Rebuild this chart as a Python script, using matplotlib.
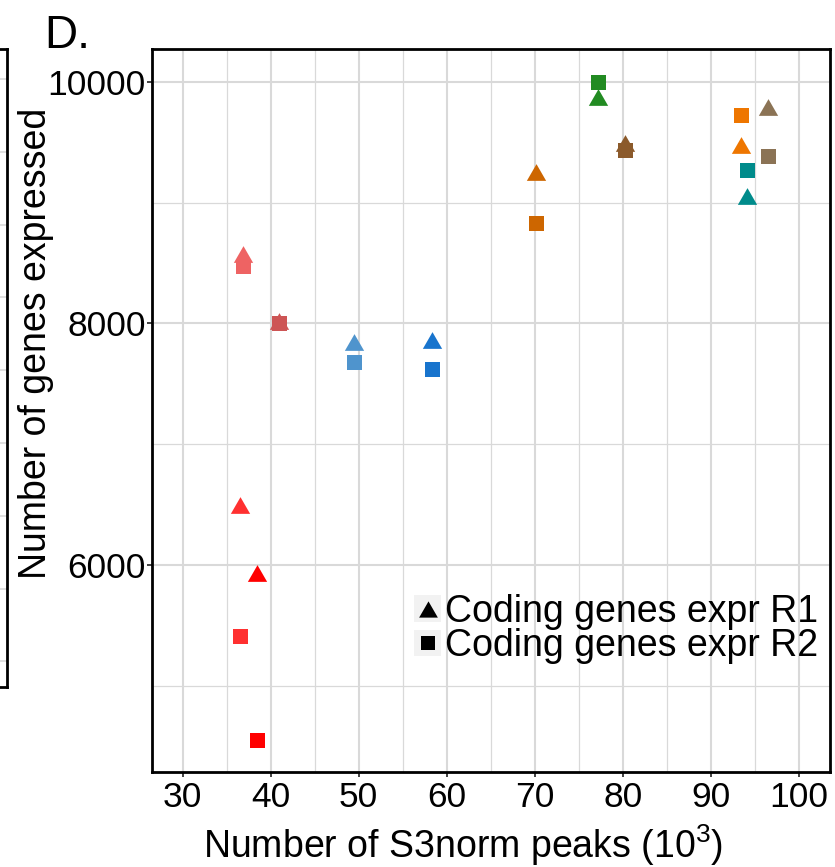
import matplotlib
matplotlib.use('Agg')
import matplotlib.pyplot as plt
from matplotlib.lines import Line2D
from matplotlib.patches import Rectangle
from matplotlib.ticker import MultipleLocator

plt.rcParams['font.family'] = ['Liberation Sans', 'DejaVu Sans']
plt.rcParams['mathtext.fontset'] = 'custom'
plt.rcParams['mathtext.rm'] = 'Liberation Sans'
plt.rcParams['mathtext.it'] = 'Liberation Sans:italic'
plt.rcParams['mathtext.bf'] = 'Liberation Sans:bold'

# ---- data ----
peaks = [36.9, 40.9, 49.46, 58.3, 36.5, 38.5, 70.1, 77.13, 80.28, 93.47, 94.15, 96.52]   # x10^3
genes_r1 = [8573, 8020, 7844, 7863, 6499, 5938, 9257, 9872, 9498, 9478, 9059, 9794]
genes_r2 = [8474, 8005, 7677, 7622, 5416, 4555, 8836, 9996, 9433, 9723, 9275, 9383]
colors = ['#EE6363', '#CD5555', '#4F94CD', '#1874CD', '#FF3030', '#FF0000',
          '#CD6600', '#228B22', '#8B5A2B', '#EE7600', '#008B8B', '#8B7355']
legend_labels = ['Coding genes expr R1', 'Coding genes expr R2']
xticks = [30, 40, 50, 60, 70, 80, 90, 100]
yticks = [6000, 8000, 10000]

tri = [(-1, -0.866), (1, -0.866), (0, 0.866)]

fig = plt.figure(figsize=(8.35, 8.67), dpi=100)

# fragment of neighbouring panel at the far left
ax0 = fig.add_axes([-0.1, 1 - 687 / 867, 0.1 + 6.7 / 835, (687 - 49) / 867])
ax0.set_xlim(0, 1)
ax0.set_ylim(687, 49)
ax0.set_xticks([])
ax0.set_yticks([79 + 72.8 * k for k in range(9)])
ax0.tick_params(axis='y', length=0, labelleft=False)
ax0.grid(axis='y', color='#D9D9D9', lw=1.2)
ax0.spines['left'].set_visible(False)
for s in ['right', 'top', 'bottom']:
    ax0.spines[s].set_linewidth(2)

ax = fig.add_axes([152 / 835, 1 - 772 / 867, 678 / 835, 723 / 867])
for x, y, c in zip(peaks, genes_r1, colors):
    ax.plot([x], [y], ls='none', marker=tri, ms=13.9, mew=0, color=c, zorder=3)
for x, y, c in zip(peaks, genes_r2, colors):
    ax.plot([x], [y], ls='none', marker='s', ms=10.8, mew=0, color=c, zorder=4)

ax.set_xlim(26.53, 103.52)
ax.set_ylim(4286, 10273)
ax.set_xticks(xticks)
ax.set_yticks(yticks)
ax.xaxis.set_minor_locator(MultipleLocator(5))
ax.yaxis.set_minor_locator(MultipleLocator(1000))
ax.set_axisbelow(True)
ax.grid(which='major', color='#D9D9D9', lw=1.5)
ax.grid(which='minor', color='#D9D9D9', lw=0.9)
ax.tick_params(which='major', length=3.5, width=1.3, color='#333333', labelsize=25.5)
ax.tick_params(axis='x', which='major', pad=3)
ax.tick_params(axis='y', which='major', pad=1)
ax.tick_params(which='minor', length=0)
for s in ax.spines.values():
    s.set_linewidth(2)

ax.set_xlabel('Number of S3norm peaks (10$^{3}$)', fontsize=27, va='center')
ax.xaxis.set_label_coords((463 - 152) / 678, (772 - 845) / 723)
ax.set_ylabel('Number of genes expressed', fontsize=27, va='center')
ax.yaxis.set_label_coords((36 - 152) / 678, (772 - 343) / 723)

h1 = (Rectangle((0, 0), 1, 1, facecolor='#F2F2F2', edgecolor='none'),
      Line2D([], [], marker=tri, color='black', ls='none', ms=13.5, mew=0))
h2 = (Rectangle((0, 0), 1, 1, facecolor='#F2F2F2', edgecolor='none'),
      Line2D([], [], marker='s', color='black', ls='none', ms=9.5, mew=0))
ax.legend([h1, h2], legend_labels, loc='lower right',
          bbox_to_anchor=((818 - 152) / 678, (772 - 664) / 723),
          frameon=False, fontsize=27, handlelength=0.72, handleheight=0.72,
          handletextpad=0.1, labelspacing=-0.05, borderpad=0, borderaxespad=0)

fig.text(44.5 / 835, 1 - 48 / 867, 'D.', fontsize=33, ha='left', va='baseline')

fig.savefig('out.png', dpi=100)
